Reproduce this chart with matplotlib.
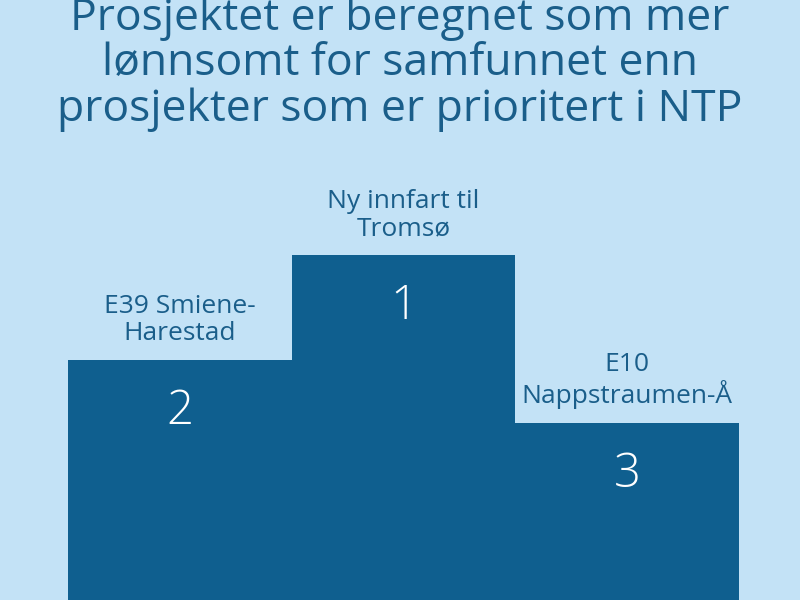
import matplotlib
matplotlib.use("Agg")
import matplotlib.pyplot as plt

# Data
projects = ["E39 Smiene-\nHarestad", "Ny innfart til\nTromsø", "E10\nNappstraumen-Å"]
ranks = ["2", "1", "3"]
podium_height = [240, 345, 177]

title = "Prosjektet er beregnet som mer\nlønnsomt for samfunnet enn\nprosjekter som er prioritert i NTP"

BG = "#c3e2f6"
BAR = "#0f5f8f"
TXT = "#1a5e8a"
FONT = ["Open Sans", "DejaVu Sans"]

fig = plt.figure(figsize=(8, 6), dpi=100, facecolor=BG)
ax = fig.add_axes([68 / 800, 0, 671 / 800, 1])
ax.set_facecolor(BG)
ax.patch.set_alpha(0)
xs = list(range(len(projects)))
bars = ax.bar(xs, podium_height, width=1.0, color=BAR, align="center")
ax.set_xlim(-0.5, len(projects) - 0.5)
ax.set_ylim(0, 600)
ax.axis("off")

for x, h, lab, r in zip(xs, podium_height, projects, ranks):
    ax.annotate(lab, (x, h), xytext=(0, 10), textcoords="offset points",
                ha="center", va="bottom", fontsize=19, color=TXT,
                family=FONT, linespacing=1.12)
    ax.annotate(r, (x, h), xytext=(0, -37), textcoords="offset points",
                ha="center", va="center", fontsize=34, color="white",
                family=FONT, fontweight="light")

fig.text(0.5, 1 - 64 / 600, title, ha="center", va="center", fontsize=32,
         color=TXT, family=FONT, linespacing=1.02)

fig.savefig("out.png", dpi=100, facecolor=BG)
